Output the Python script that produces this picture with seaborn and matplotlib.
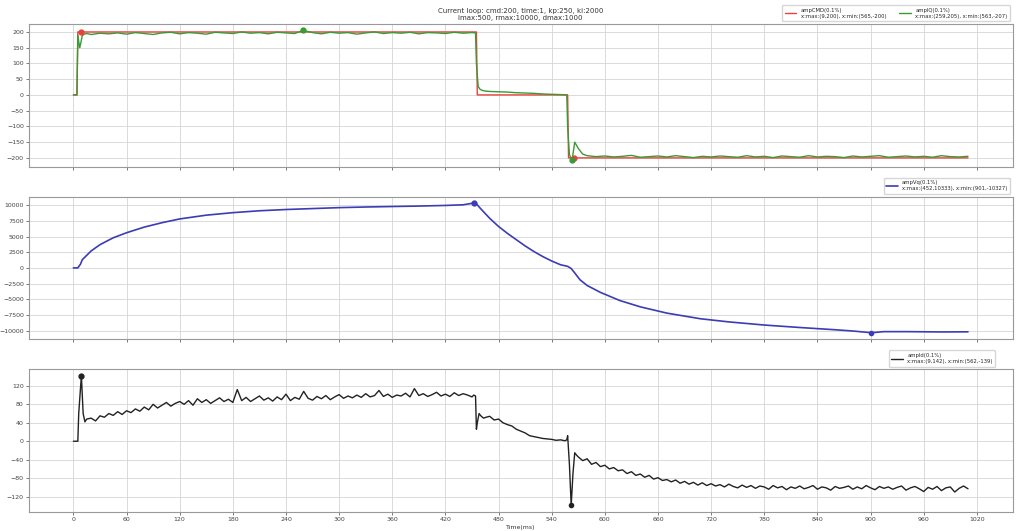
import numpy as np
import pandas as pd
import seaborn as sns
import matplotlib
matplotlib.use('Agg')
import matplotlib.pyplot as plt

# ---- panel 1: command / measured iq ----
cmd_t = [0, 4, 5, 455, 456, 558, 559, 1010]
cmd_v = [0, 0, 200, 200, 0, 0, -200, -200]

iq_t_head = [0, 4, 5, 7, 8, 10, 12, 15, 20,
             30, 40, 50, 60, 70, 80, 90, 100, 110, 120, 130, 140, 150, 160, 170, 180, 190, 200, 210, 220, 230, 240, 250,
             259,
             270, 280, 290, 300, 310, 320, 330, 340, 350, 360, 370, 380, 390, 400, 410, 420, 430, 440, 450,
             454, 455, 457, 459, 462, 466, 470,
             480, 490, 500, 510, 520, 530, 540, 550,
             557, 558, 560, 563, 566, 570, 575]
iq_v_head = [0, 0, 190, 150, 160, 188, 193, 195, 192,
             196, 194, 197, 193, 198, 195, 192, 197, 199, 194, 198, 196, 193, 199, 197, 195, 200, 196, 198, 194, 199, 197, 195,
             205,
             198, 194, 199, 196, 198, 193, 197, 200, 195, 198, 196, 199, 194, 198, 197, 195, 199, 196, 198,
             197, 100, 27, 18, 14, 12, 11,
             10, 9, 7, 6, 5, 3, 2, 1,
             0, -100, -190, -207, -150, -170, -188]
# from 580 ms, every 10 ms
iq_v_tail = [-193, -196, -194, -197, -195, -192, -198, -196, -194, -197,
             -193, -196, -199, -195, -197, -194, -196, -198, -193, -197,
             -195, -199, -194, -196, -198, -193, -197, -195, -196, -199,
             -194, -197, -195, -193, -198, -196, -194, -197, -195, -198,
             -193, -196, -197, -195]

# ---- panel 2 ----
vq_t = [0, 4, 5, 8, 10, 15, 20, 30, 45, 60, 80, 100, 120, 150, 180, 210, 240, 270, 300, 330, 360, 390, 420, 440,
        452, 455, 460, 470, 480, 490, 500, 510, 520, 530, 540, 550, 558,
        562, 566, 572, 580, 595, 617, 640, 670, 708, 740, 780, 821, 860, 880, 901, 915, 940, 980, 1010]
vq_v = [0, 0, 0, 600, 1300, 2000, 2700, 3700, 4800, 5600, 6500, 7200, 7800, 8400, 8800, 9100, 9300, 9450, 9600, 9700,
        9780, 9850, 9950, 10050,
        10333, 10200, 9400, 7900, 6600, 5500, 4500, 3500, 2600, 1800, 1100, 500, 250,
        -100, -800, -1900, -2800, -3900, -5200, -6200, -7200, -8100, -8600, -9100, -9500, -9850, -10050, -10327,
        -10150, -10150, -10200, -10180]

# ---- panel 3 ----
id_t_a = [0, 4, 5, 6, 9, 11, 13, 15]
id_v_a = [0, 0, 0, 60, 142, 60, 42, 48]
# from 20 ms, every 5 ms
id_v_b = [50, 44, 55, 52, 60, 56, 64, 58, 66, 62,
          70, 65, 74, 68, 80, 72, 78, 84, 76, 82,
          86, 80, 88, 78, 92, 84, 90, 82, 88, 94,
          86, 91, 84, 112, 88, 95, 86, 92, 98, 89,
          94, 87, 96, 90, 102, 88, 95, 91, 108, 93,
          89, 97, 92, 99, 90, 96, 101, 93, 98, 94,
          100, 95, 103, 96, 99, 110, 97, 102, 95, 100,
          98, 104, 96, 114, 99, 103, 97, 101, 106, 98,
          102, 97, 105, 99, 103, 100, 96]
id_t_c = [452, 454, 455, 456, 458, 460, 463, 466]
id_v_c = [100, 98, 26, 40, 60, 55, 50, 52]
# from 470 ms, every 5 ms
id_v_d = [54, 46, 48, 40, 36, 33, 26, 22, 18, 12, 10, 8, 6, 5, 4, 2, 3, 1]
id_t_e = [557, 558, 560, 562, 564, 566, 568]
id_v_e = [3, 12, -50, -139, -70, -25, -30]
# from 570 ms, every 5 ms
id_v_f = [-34, -42, -38, -50, -46, -55, -52, -60, -57, -64,
          -62, -70, -66, -74, -71, -78, -74, -82, -79, -85,
          -83, -88, -84, -91, -87, -93, -89, -95, -90, -96,
          -92, -97, -94, -99, -93, -98, -101, -95, -100, -96,
          -102, -97, -99, -104, -96, -101, -98, -105, -99, -102,
          -97, -103, -100, -96, -104, -99, -101, -106, -98, -102,
          -100, -97, -104, -99, -103, -96, -101, -105, -98, -102,
          -99, -104, -100, -97, -106, -101, -98, -103, -109, -100,
          -104, -98, -107, -101, -99, -110, -102, -97, -103]

title = 'Current loop: cmd:200, time:1, kp:250, ki:2000\nimax:500, rmax:10000, dmax:1000'
lab_cmd = 'ampCMD(0.1%)\nx:max:(9,200), x:min:(565,-200)'
lab_iq = 'ampIQ(0.1%)\nx:max:(259,205), x:min:(563,-207)'
lab_vq = 'ampVq(0.1%)\nx:max:(452,10333), x:min:(901,-10327)'
lab_id = 'ampId(0.1%)\nx:max:(9,142), x:min:(562,-139)'
xticks = list(range(0, 1021, 60))

# build the time columns for the evenly sampled parts
iq_t = iq_t_head + [580 + 10 * i for i in range(len(iq_v_tail))]
iq_v = iq_v_head + iq_v_tail
id_t = (id_t_a + [20 + 5 * i for i in range(len(id_v_b))] + id_t_c
        + [470 + 5 * i for i in range(len(id_v_d))] + id_t_e
        + [570 + 5 * i for i in range(len(id_v_f))])
id_v = id_v_a + id_v_b + id_v_c + id_v_d + id_v_e + id_v_f

df_cmd = pd.DataFrame({'t': cmd_t, 'v': cmd_v})
df_iq = pd.DataFrame({'t': iq_t, 'v': iq_v})
df_vq = pd.DataFrame({'t': vq_t, 'v': vq_v})
df_id = pd.DataFrame({'t': id_t, 'v': id_v})

sns.set_theme(style='ticks')
plt.rcParams['font.family'] = ['DejaVu Sans']

fig, axes = plt.subplots(3, 1, figsize=(10.24, 5.31), dpi=100, sharex=True)
fig.subplots_adjust(left=0.028, right=0.989, top=0.955, bottom=0.036, hspace=0.21)

red = '#e8413c'
green = '#3a9a35'
blue = '#3c3cb4'
black = '#222222'

ax = axes[0]
sns.lineplot(data=df_cmd, x='t', y='v', ax=ax, color=red, lw=1.0, estimator=None, label=lab_cmd)
sns.lineplot(data=df_iq, x='t', y='v', ax=ax, color=green, lw=1.0, estimator=None, label=lab_iq)
ax.plot([9], [200], 'o', color=red, ms=3.5)
ax.plot([565], [-200], 'o', color=red, ms=3.5)
ax.plot([259], [205], 'o', color=green, ms=3.5)
ax.plot([563], [-207], 'o', color=green, ms=3.5)
ax.set_yticks(range(-200, 201, 50))
ax.set_title(title, fontsize=5, pad=3, color='#333333')
ax.legend(loc='lower right', bbox_to_anchor=(1.0, 1.0), ncol=2, fontsize=3.8,
          frameon=True, edgecolor='#cccccc', handlelength=2.2, borderpad=0.5, columnspacing=2.5)

ax = axes[1]
sns.lineplot(data=df_vq, x='t', y='v', ax=ax, color=blue, lw=1.2, estimator=None, label=lab_vq)
ax.plot([452], [10333], 'o', color=blue, ms=3.5)
ax.plot([901], [-10327], 'o', color=blue, ms=3.0)
ax.set_yticks(range(-10000, 10001, 2500))
ax.legend(loc='lower right', bbox_to_anchor=(1.0, 1.0), fontsize=3.8,
          frameon=True, edgecolor='#cccccc', handlelength=2.2, borderpad=0.5)

ax = axes[2]
sns.lineplot(data=df_id, x='t', y='v', ax=ax, color=black, lw=1.0, estimator=None, label=lab_id)
ax.plot([9], [142], 'o', color=black, ms=3.5)
ax.plot([562], [-139], 'o', color=black, ms=3.0)
ax.set_yticks(range(-120, 121, 40))
ax.legend(loc='lower right', bbox_to_anchor=(0.985, 1.0), fontsize=3.8,
          frameon=True, edgecolor='#cccccc', handlelength=2.2, borderpad=0.5)
ax.set_xlabel('Time(ms)', fontsize=4.5, labelpad=2, color='#333333')

for ax in axes:
    ax.set_xticks(xticks)
    ax.set_ylabel('')
    ax.grid(True, color='#d5d5d5', lw=0.6)
    ax.tick_params(labelsize=4.5, length=2, width=0.5, pad=1.5, colors='#444444')
    for s in ax.spines.values():
        s.set_color('#999999')
        s.set_linewidth(0.8)
axes[0].set_xlabel('')
axes[1].set_xlabel('')

fig.savefig('out.png', dpi=100)
